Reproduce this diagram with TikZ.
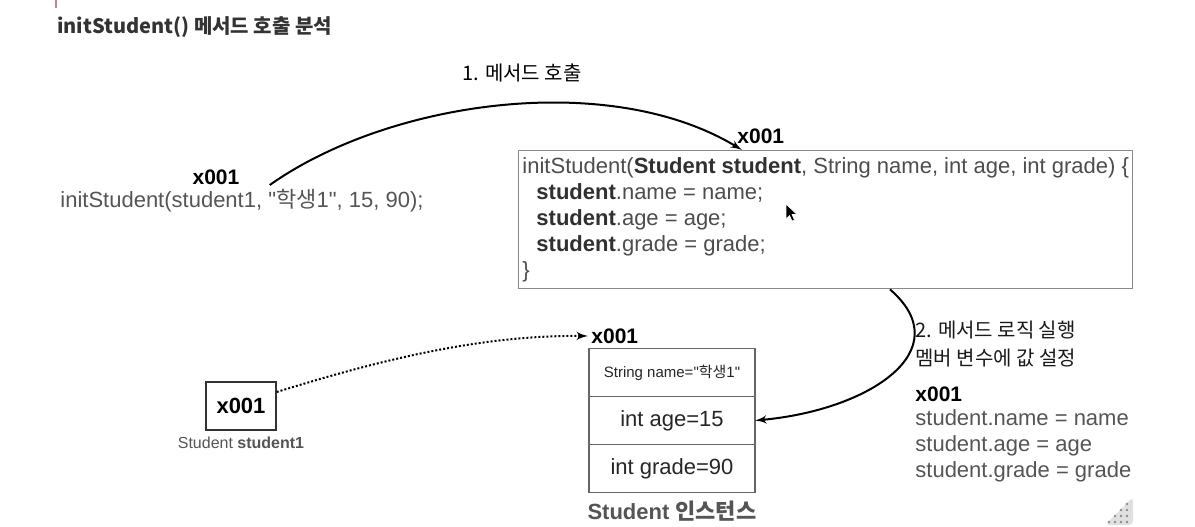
\documentclass[tikz,border=0pt]{standalone}
\usepackage{fontspec}
\setmainfont{Liberation Sans}[Ligatures=TeXOff]
\newfontfamily\kr{Noto Sans CJK KR}[Ligatures=TeXOff]
\usetikzlibrary{arrows, positioning}
\definecolor{txtgray}{HTML}{555555}
\definecolor{codegray}{HTML}{4D4D4D}
\definecolor{codedark}{HTML}{303030}
\definecolor{boxline}{HTML}{8A8A8A}
\definecolor{pinkmark}{HTML}{C77D92}
\newcommand{\kw}[1]{{\bfseries\color{codedark}#1}}

\begin{document}
\begin{tikzpicture}[
    x=0.5pt, y=-0.5pt,
    addr/.style={font=\fontsize{10.5}{12}\selectfont\bfseries, text=black, inner sep=0pt},
    plain/.style={font=\fontsize{11}{13}\selectfont, inner sep=0pt},
    korean/.style={font=\kr\fontsize{10}{14}\selectfont, inner sep=0pt},
    field/.style={rectangle, draw=black!60, line width=0.7pt, minimum width=83pt, minimum height=24pt, outer sep=0pt, inner sep=0pt, font=\fontsize{11}{13}\selectfont, text=black!85},
    line/.style={draw, -latex', line width=1pt},
    ref/.style={draw, -latex', line width=1pt, densely dotted}
]
\useasboundingbox (0,0) rectangle (1195,526);

% title
\draw[pinkmark, line width=1pt] (56,0) -- (56,8);
\node[anchor=west, inner sep=0pt, font=\kr\fontsize{10}{12}\selectfont\bfseries, text=black!80] (title) at (57,27) {initStudent() 메서드 호출 분석};

% caller
\node[plain, text=txtgray, anchor=west] (call) at (60,201) {initStudent(student1, "{\kr 학생}1", 15, 90);};
\node[addr] (callx) at (216,177) {x001};

% method body
\node[rectangle, draw=boxline, line width=0.7pt, anchor=north west, minimum width=307pt, minimum height=69pt,
      plain, inner xsep=1.5pt, align=left, text=codegray] (method) at (518,150)
  {initStudent(\kw{Student student}, String name, int age, int grade) \{\\
   \hspace*{7pt}\kw{student}.name = name;\\
   \hspace*{7pt}\kw{student}.age = age;\\
   \hspace*{7pt}\kw{student}.grade = grade;\\
   \}};
\node[addr, anchor=west] (methodx) at (737,136) {x001};
\filldraw[fill=black, draw=white, line width=0.3pt] (786,204) -- (786,219) -- (789.5,215.5) -- (792,221) -- (794.5,220) -- (792,214.5) -- (797,214.5) -- cycle;

% 1. call
\node[korean, text=black] (step1) at (522,73) {1. 메서드 호출};
\path[line] ([xshift=15pt,yshift=-4pt]callx.east) .. controls (390,100) and (610,70) .. ([xshift=112pt]method.north west);

% instance
\node[field, font=\fontsize{7.5}{9}\selectfont] (fname) at (672,372.5) {String name="{\kr 학생}1"};
\node[field, below=0pt of fname] (fage) {int age=15};
\node[field, below=0pt of fage] (fgrade) {int grade=90};
\node[addr, anchor=west] (instx) at (591,336) {x001};
\node[inner sep=0pt, font=\fontsize{11}{13}\selectfont\bfseries, text=txtgray, below=4pt of fgrade] (instname) {Student {\kr 인스턴스}};

% student1 variable
\node[rectangle, draw=black!80, line width=0.7pt, minimum width=35pt, minimum height=24pt, font=\fontsize{11}{13}\selectfont\bfseries] (var) at (241,406) {x001};
\node[inner sep=0pt, font=\fontsize{8}{10}\selectfont, text=txtgray, below=3pt of var] (varname) {Student \textbf{student1}};
\path[ref] ([yshift=7pt]var.east) .. controls (380,360) and (480,335) .. ([xshift=-1.5pt]instx.west);

% 2. logic
\path[line] ([xshift=186pt]method.south west) .. controls (960,350) and (870,410) .. (fage.east);
\node[korean, text=black!90, anchor=west, align=left] (step2) at (915,344) {2. 메서드 로직 실행\\멤버 변수에 값 설정};
\node[addr, anchor=west] (stepx) at (915,394) {x001};
\node[plain, text=txtgray, anchor=west, align=left] (assign) at (915,446) {student.name = name\\student.age = age\\student.grade = grade};

% resize grip
\fill[black!12, rounded corners=2pt] (1133,497) -- (1133,525) -- (1105,525) -- cycle;
\foreach \r in {0,...,3}
  \foreach \c in {0,...,\r}
    \fill[black!45] (1127-6*\c, 504+6*\r) circle (0.7pt);
\end{tikzpicture}
\end{document}
